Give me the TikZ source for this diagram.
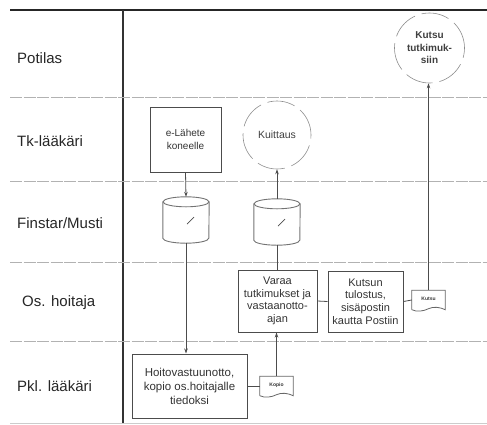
\documentclass[tikz,border=0pt]{standalone}
\usepackage{fontspec}
\setmainfont{Liberation Sans}
\usetikzlibrary{arrows.meta,calc}
\begin{document}
\begin{tikzpicture}[x=1pt,y=-1pt,
  lane/.style={draw=black!30,line width=0.9pt,dash pattern=on 12pt off 1.5pt},
  lanelabel/.style={anchor=west,inner sep=0pt,font=\fontsize{15}{17}\selectfont,text=black!85},
  procbox/.style={draw=black!70,line width=1pt,align=center,inner sep=1pt,text=black!80},
  circ/.style={circle,draw=black!45,line width=0.6pt,dash pattern=on 28pt off 7pt,align=center,inner sep=0pt,text=black!75},
  cylbox/.style={rectangle,minimum width=46pt,minimum height=46pt,inner sep=0pt},
  cylline/.style={draw=black!55,line width=0.9pt},
  docbox/.style={rectangle,minimum width=33pt,minimum height=19pt,inner sep=0pt,font=\fontsize{5}{6}\selectfont\bfseries,text=black!80},
  docline/.style={draw=black!60,line width=0.8pt},
  conn/.style={draw=black!70,line width=0.8pt},
  arr/.style={conn,-{Stealth[length=5pt,width=3.5pt]}}
]
\useasboundingbox (0,0) rectangle (487,424);
% frame
\draw[black!85,line width=1.6pt] (10,10) -- (487,10);
\draw[black!80,line width=1.1pt] (123,10) -- (123,424);
\foreach \yy in {97,181,262,341} \draw[lane] (10,\yy) -- (487,\yy);
\draw[black!20,line width=0.8pt] (10,423) -- (487,423);
% lane labels
\node[lanelabel] (lp) at (17,58) {Potilas};
\node[lanelabel] (lt) at (17,141) {Tk-lääkäri};
\node[lanelabel] (lf) at (17,223) {Finstar/Musti};
\node[lanelabel] (lo) at (22,303) {Os. hoitaja};
\node[lanelabel] (lk) at (17,386) {Pkl. lääkäri};
% process boxes
\node[procbox,minimum width=71pt,minimum height=65pt,font=\fontsize{10}{13}\selectfont] (elah) at (185.5,139.5) {e-Lähete\\koneelle};
\node[procbox,minimum width=79pt,minimum height=62pt,font=\fontsize{11}{12.6}\selectfont] (varaa) at (277.5,301) {Varaa\\tutkimukset ja\\vastaanotto-\\ajan};
\node[procbox,minimum width=75pt,minimum height=61pt,font=\fontsize{11}{12.6}\selectfont] (kutsun) at (365.5,301.5) {Kutsun\\tulostus,\\sisäpostin\\kautta Postiin};
\node[procbox,minimum width=115pt,minimum height=64pt,font=\fontsize{11.5}{14}\selectfont] (hoito) at (189.5,386) {Hoitovastuunotto,\\kopio os.hoitajalle\\tiedoksi};
% circles
\node[circ,minimum size=68pt,font=\fontsize{10.5}{12}\selectfont] (kuit) at (277,135) {Kuittaus};
\node[circ,minimum size=70pt,font=\fontsize{10}{12.5}\selectfont\bfseries] (kutsuc) at (429.5,48) {Kutsu\\tutkimuk-\\siin};
% cylinders
\foreach \c/\p in {cyl1/{(186,220)},cyl2/{(277,222)}}{
  \node[cylbox] (\c) at \p {};
  \draw[cylline] ([yshift=-5pt]\c.north west) -- ([yshift=5pt]\c.south west)
     arc[start angle=180,end angle=360,x radius=23pt,y radius=5pt]
     -- ([yshift=-5pt]\c.north east);
  \draw[cylline] ([yshift=-5pt]\c.north) ellipse[x radius=23pt,y radius=5pt];
  \draw[black!70,line width=0.7pt] ([shift={(1pt,-4pt)}]\c.center) -- ([shift={(8pt,3pt)}]\c.center);
}
% documents
\node[docbox] (kopio) at (276.5,386) {\raisebox{3pt}{Kopio}};
\node[docbox] (kutsud) at (428.5,300) {\raisebox{3pt}{Kutsu}};
\foreach \d in {kopio,kutsud}{
  \draw[docline] (\d.south west) -- (\d.north west) -- (\d.north east) -- (\d.south east)
    .. controls +(-5,-2.5) and +(5,-2.5) .. ($(\d.south)+(0pt,1pt)$)
    .. controls +(-5,2.5) and +(5,2.5) .. (\d.south west);
}
% connectors
\draw[arr] (elah.south) -- (cyl1.north);
\draw[arr] (cyl1.south) -- (cyl1.south |- hoito.north);
\draw[conn] (hoito.east) -- (kopio.west);
\draw[arr] (kopio.north) -- (kopio.north |- varaa.south);
\draw[conn] (varaa.north -| cyl2.south) -- (cyl2.south);
\draw[arr] (cyl2.north) -- (kuit.south);
\draw[conn] (varaa.east) -- (kutsun.west);
\draw[conn] (kutsun.east) -- (kutsud.west);
\draw[arr] (kutsud.north) -- (kutsud.north |- kutsuc.south);
\end{tikzpicture}
\end{document}
